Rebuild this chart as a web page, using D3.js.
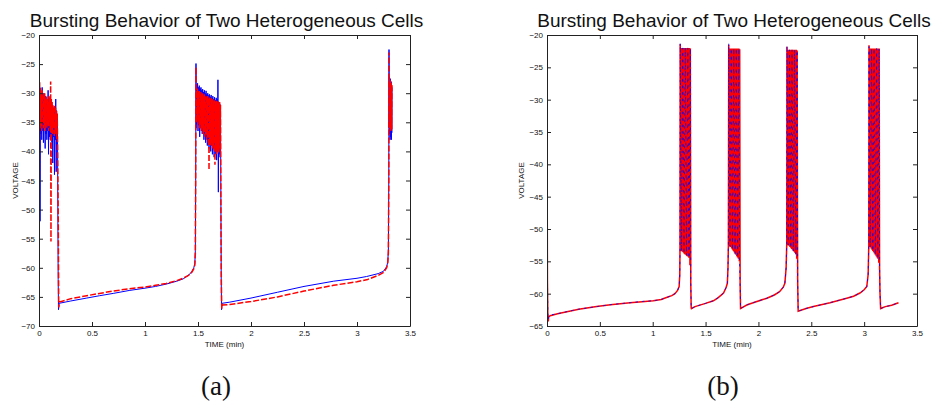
<!DOCTYPE html>
<html>
<head>
<meta charset="utf-8">
<script src="https://cdn.jsdelivr.net/npm/d3@7"></script>
<style>
  body { margin: 0; background: #fff; }
  svg text { font-family: "Liberation Sans", Arial, sans-serif; }
</style>
</head>
<body>
<svg id="chart" width="932" height="402"></svg>
<script>
// ---- data ----
var titleText = "Bursting Behavior of Two Heterogeneous Cells";
var xLabel = "TIME (min)";
var yLabel = "VOLTAGE";
var captions = ["(a)", "(b)"];
var xTicks = [0, 0.5, 1, 1.5, 2, 2.5, 3, 3.5];
var yTicksA = [-70, -65, -60, -55, -50, -45, -40, -35, -30, -25, -20];
var yTicksB = [-65, -60, -55, -50, -45, -40, -35, -30, -25, -20];

// panel (a), cell 1 (blue, solid)
var blueA = [
  [0.000,-30],[0.004,-47],[0.007,-29],[0.010,-52],[0.014,-29.5],[0.018,-37],[0.022,-30],[0.026,-38],
  [0.030,-29],[0.034,-36.5],[0.038,-30.5],[0.042,-38.5],[0.046,-30],[0.050,-36],[0.054,-31],[0.058,-39.5],
  [0.062,-30.5],[0.066,-37],[0.070,-31],[0.074,-38],[0.078,-31.5],[0.082,-36.5],[0.086,-29.5],[0.090,-40.5],
  [0.094,-31],[0.098,-37.5],[0.102,-31.5],[0.106,-38],[0.110,-32],[0.114,-37],[0.118,-31],[0.122,-38.5],
  [0.126,-32],[0.130,-42],[0.134,-32.5],[0.138,-37.5],[0.142,-33],[0.146,-44],[0.150,-32.5],[0.154,-38],
  [0.158,-31],[0.162,-43.5],[0.166,-33],[0.170,-39],[0.174,-34],[0.178,-52],[0.181,-62],[0.184,-67.2],
  [0.19,-66.1],[0.30,-65.7],[0.45,-65.2],[0.57,-64.8],[0.70,-64.4],[0.85,-63.9],[1.00,-63.5],[1.10,-63.2],
  [1.20,-62.8],[1.30,-62.3],[1.36,-61.9],[1.41,-61.3],[1.44,-60.7],[1.46,-60.0],[1.47,-59.3],[1.475,-57],
  [1.478,-45],[1.481,-24.9],[1.484,-36],[1.488,-28.5],[1.492,-35],[1.496,-28.3],[1.500,-36.5],[1.504,-29],
  [1.508,-35.5],[1.512,-28.7],[1.516,-37.5],[1.520,-29.2],[1.524,-36],[1.528,-29],[1.532,-36.5],[1.536,-29.5],
  [1.540,-37],[1.544,-29.3],[1.548,-36.5],[1.552,-29.8],[1.556,-38],[1.560,-29.5],[1.564,-37],[1.568,-30],
  [1.572,-38.5],[1.576,-29.6],[1.580,-37.5],[1.584,-30.2],[1.588,-39],[1.592,-30],[1.596,-38],[1.600,-30.4],
  [1.604,-39.5],[1.608,-30.2],[1.612,-38.5],[1.616,-30.6],[1.620,-40],[1.624,-30.3],[1.628,-39],[1.632,-30.8],
  [1.636,-40.5],[1.640,-30.5],[1.644,-39.5],[1.648,-31],[1.652,-41],[1.656,-30.7],[1.660,-40],[1.664,-31.2],
  [1.668,-40.5],[1.672,-30.8],[1.676,-41.5],[1.680,-31],[1.684,-40],[1.688,-27.7],[1.692,-47],[1.696,-31.5],
  [1.700,-40.5],[1.704,-31.8],[1.708,-41],[1.712,-32],[1.716,-48],[1.719,-62],[1.722,-67.2],[1.727,-66.1],
  [1.80,-65.9],[2.00,-65.2],[2.25,-64.2],[2.50,-63.2],[2.78,-62.3],[3.00,-61.8],[3.09,-61.5],[3.20,-61.0],
  [3.25,-60.6],[3.28,-59.8],[3.29,-59.0],[3.296,-57],[3.300,-45],[3.302,-22.5],[3.304,-36],[3.306,-27.2],
  [3.308,-37],[3.310,-28],[3.312,-38],[3.314,-27.5],[3.316,-36.5],[3.318,-28.5],[3.320,-37.5],[3.322,-28],
  [3.324,-38],[3.326,-28.8],[3.328,-36.8],[3.330,-29]
];

// panel (a), cell 2 (red, dashed)
var redA = [
  [0.000,-28.5],[0.003,-44],[0.006,-28],[0.010,-36],[0.014,-29],[0.018,-35.5],[0.022,-30],[0.026,-36.5],
  [0.030,-29.5],[0.034,-35],[0.038,-30],[0.042,-36],[0.046,-30.5],[0.050,-35.5],[0.054,-30],[0.058,-36.5],
  [0.062,-31],[0.066,-35],[0.070,-30.5],[0.074,-36],[0.078,-31],[0.082,-35.5],[0.086,-31.5],[0.090,-36.5],
  [0.094,-30.5],[0.098,-35],[0.102,-31],[0.106,-36],[0.110,-28],[0.113,-55.5],[0.116,-31],[0.120,-36],
  [0.124,-31.5],[0.128,-37],[0.132,-32],[0.136,-36],[0.140,-32.5],[0.144,-37.5],[0.148,-32],[0.152,-36.5],
  [0.156,-32.5],[0.160,-37],[0.164,-33],[0.168,-38],[0.172,-33.5],[0.176,-40],[0.182,-52],[0.186,-66.8],
  [0.192,-65.9],[0.30,-65.3],[0.45,-64.8],[0.57,-64.4],[0.70,-64.0],[0.85,-63.6],[1.00,-63.3],[1.10,-63.0],
  [1.20,-62.7],[1.30,-62.2],[1.36,-61.8],[1.41,-61.3],[1.44,-60.8],[1.46,-60.2],[1.47,-59.5],[1.475,-57.5],
  [1.478,-45],[1.481,-25.5],[1.484,-35],[1.488,-29.5],[1.492,-34.5],[1.496,-29.2],[1.500,-35.5],[1.504,-29.8],
  [1.508,-35],[1.512,-29.5],[1.516,-36],[1.520,-30],[1.524,-35.5],[1.528,-29.8],[1.532,-36.5],[1.536,-30.2],
  [1.540,-36],[1.544,-30],[1.548,-37],[1.552,-30.4],[1.556,-36.5],[1.560,-30.2],[1.564,-37.5],[1.568,-30.6],
  [1.572,-37],[1.576,-30.4],[1.580,-38],[1.584,-30.8],[1.588,-37.5],[1.592,-30.5],[1.596,-38.5],[1.600,-30.9],
  [1.604,-43.2],[1.608,-30.7],[1.612,-38],[1.616,-31],[1.620,-39],[1.624,-30.8],[1.628,-38.5],[1.632,-31.2],
  [1.636,-39.5],[1.640,-31],[1.644,-39],[1.648,-31.4],[1.652,-40],[1.656,-31.2],[1.660,-42.3],[1.664,-31.5],
  [1.668,-39.5],[1.672,-31.3],[1.676,-40.5],[1.680,-31.6],[1.684,-39.8],[1.688,-31.4],[1.692,-40.2],[1.696,-31.8],
  [1.700,-39.5],[1.704,-31.5],[1.708,-40],[1.712,-32],[1.716,-50],[1.720,-62],[1.724,-67],[1.729,-66.4],
  [1.80,-66.3],[2.00,-65.8],[2.25,-65.0],[2.50,-64.0],[2.78,-63.0],[3.00,-62.4],[3.10,-62.0],[3.20,-61.3],
  [3.25,-60.8],[3.28,-60.0],[3.29,-59.2],[3.296,-57.5],[3.300,-45],[3.302,-23],[3.304,-35.5],[3.306,-27.5],
  [3.308,-36],[3.310,-28],[3.312,-36.3],[3.314,-27.8],[3.316,-35.8],[3.318,-28.4],[3.320,-36.5],[3.322,-28.2],
  [3.324,-36],[3.326,-28.6],[3.328,-36.2],[3.330,-28.5]
];

// panel (b), cell 2 (red, solid)
var redB = [
  [0.000,-23.0],[0.002,-45],[0.004,-58],[0.008,-63.5],[0.012,-64.3],[0.016,-63.6],[0.03,-63.4],[0.10,-63.1],
  [0.155,-62.9],[0.30,-62.4],[0.47,-62.0],[0.60,-61.7],[0.785,-61.4],[0.90,-61.25],[1.006,-61.1],[1.08,-60.9],
  [1.13,-60.6],[1.18,-60.3],[1.21,-60.0],[1.235,-59.5],[1.25,-58.9],[1.256,-57],
  [1.258,-53.2],[1.260,-21.4],[1.264,-53.3],[1.268,-22.0],[1.272,-53.4],[1.276,-22.0],[1.280,-53.5],[1.284,-22.0],
  [1.288,-53.6],[1.292,-22.0],[1.296,-53.8],[1.300,-22.0],[1.304,-53.9],[1.308,-22.0],[1.312,-54.0],[1.316,-22.0],
  [1.320,-54.1],[1.324,-22.0],[1.328,-54.2],[1.332,-22.0],[1.336,-54.3],[1.340,-22.0],[1.344,-54.5],[1.348,-22.0],
  [1.352,-55.6],[1.356,-22.1],[1.360,-58.4],[1.364,-62.2],
  [1.366,-62.3],[1.40,-62.0],[1.50,-61.5],[1.574,-61.1],[1.62,-60.6],[1.67,-59.9],[1.695,-59.0],[1.706,-58.4],
  [1.712,-56],
  [1.716,-52.4],[1.719,-21.5],[1.723,-52.5],[1.727,-22.1],[1.731,-52.7],[1.735,-22.1],[1.739,-52.8],[1.743,-22.1],
  [1.747,-53.0],[1.751,-22.1],[1.755,-53.2],[1.759,-22.1],[1.763,-53.4],[1.767,-22.1],[1.771,-53.6],[1.775,-22.1],
  [1.779,-53.8],[1.783,-22.1],[1.787,-54.0],[1.791,-22.1],[1.795,-54.2],[1.799,-22.1],[1.803,-54.4],[1.807,-22.1],
  [1.811,-54.6],[1.815,-22.1],[1.819,-55.0],[1.823,-22.2],[1.827,-58.5],[1.831,-62.3],
  [1.889,-61.75],[1.95,-61.4],[2.08,-60.7],[2.15,-60.2],[2.20,-59.7],[2.235,-59.0],[2.25,-58.4],[2.262,-56],
  [2.268,-52.2],[2.270,-21.8],[2.274,-52.3],[2.278,-22.3],[2.282,-52.5],[2.286,-22.3],[2.290,-52.6],[2.294,-22.3],
  [2.298,-52.8],[2.302,-22.3],[2.306,-52.9],[2.310,-22.3],[2.314,-53.1],[2.318,-22.3],[2.322,-53.2],[2.326,-22.3],
  [2.330,-53.4],[2.334,-22.3],[2.338,-53.5],[2.342,-22.3],[2.346,-53.7],[2.350,-22.3],[2.354,-53.9],[2.358,-22.3],
  [2.362,-54.6],[2.366,-22.4],[2.371,-58],[2.376,-62.7],
  [2.45,-62.3],[2.52,-62.0],[2.677,-61.4],[2.835,-60.7],[2.90,-60.4],[2.96,-59.9],[3.00,-59.4],[3.025,-58.9],
  [3.038,-57],
  [3.044,-52.5],[3.046,-21.6],[3.050,-52.6],[3.054,-22.1],[3.058,-52.8],[3.062,-22.1],[3.066,-53.0],[3.070,-22.1],
  [3.074,-53.2],[3.078,-22.1],[3.082,-53.4],[3.086,-22.1],[3.090,-53.6],[3.094,-22.1],[3.098,-53.8],[3.102,-22.1],
  [3.106,-54.0],[3.110,-22.1],[3.114,-54.2],[3.118,-22.1],[3.122,-54.4],[3.126,-22.1],[3.130,-54.6],[3.134,-22.1],
  [3.138,-55.2],[3.142,-22.1],[3.146,-56],[3.150,-59.9],[3.156,-62.3],
  [3.20,-62.0],[3.26,-61.8],[3.325,-61.4]
];

// panel (b), cell 1 (blue, dashed)
var blueB = [
  [0.000,-46],[0.004,-58],[0.008,-62.8],[0.012,-64.0],[0.016,-63.5],[0.03,-63.3],[0.10,-63.1],
  [0.155,-62.9],[0.30,-62.4],[0.47,-62.0],[0.60,-61.7],[0.785,-61.4],[0.90,-61.2],[1.006,-61.1],[1.08,-60.9],
  [1.13,-60.6],[1.18,-60.3],[1.21,-60.0],[1.235,-59.5],[1.25,-58.9],[1.256,-57],
  [1.258,-53.2],[1.260,-21.3],[1.272,-53.4],[1.284,-22.0],[1.296,-53.8],[1.308,-22.0],[1.320,-54.1],[1.332,-22.0],
  [1.344,-54.5],[1.356,-22.1],[1.360,-58.4],[1.364,-62.2],
  [1.366,-62.3],[1.40,-62.0],[1.50,-61.5],[1.574,-61.1],[1.62,-60.6],[1.67,-59.9],[1.695,-59.0],[1.706,-58.4],
  [1.712,-56],
  [1.716,-52.4],[1.719,-21.3],[1.731,-52.7],[1.743,-22.1],[1.755,-53.2],[1.767,-22.1],[1.779,-53.8],[1.791,-22.1],
  [1.803,-54.4],[1.815,-22.1],[1.821,-55.0],[1.827,-58.5],[1.831,-62.3],
  [1.889,-61.75],[1.95,-61.4],[2.08,-60.7],[2.15,-60.2],[2.20,-59.7],[2.235,-59.0],[2.25,-58.4],[2.262,-56],
  [2.268,-52.2],[2.270,-21.7],[2.282,-52.5],[2.294,-22.3],[2.306,-52.9],[2.318,-22.3],[2.330,-53.4],[2.342,-22.3],
  [2.354,-53.9],[2.366,-22.4],[2.371,-58],[2.376,-62.7],
  [2.45,-62.3],[2.52,-62.0],[2.677,-61.4],[2.835,-60.7],[2.90,-60.4],[2.96,-59.9],[3.00,-59.4],[3.025,-58.9],
  [3.038,-57],
  [3.044,-52.5],[3.046,-21.8],[3.058,-52.8],[3.070,-22.1],[3.082,-53.4],[3.094,-22.1],[3.106,-54.0],[3.118,-22.1],
  [3.130,-54.6],[3.142,-22.1],[3.146,-56],[3.150,-59.9],[3.156,-62.3],
  [3.20,-62.0],[3.26,-61.8],[3.325,-61.4]
];

// ---- drawing ----
var svg = d3.select('#chart');

function drawPanel(cfg){
  var x = d3.scaleLinear().domain([0, 3.5]).range([cfg.left, cfg.right]),
      y = d3.scaleLinear().domain(cfg.yDomain).range([cfg.bottom, cfg.top]);
  var g = svg.append('g').attr('class', 'panel');
  var fmt = function(d){ return d < 0 ? '\u2212' + Math.abs(d) : String(d); };

  g.append('clipPath').attr('id', cfg.id + '-clip')
    .append('rect').attr('x', cfg.left).attr('y', cfg.top - 2)
    .attr('width', cfg.right - cfg.left).attr('height', cfg.bottom - cfg.top + 2);

  var line = d3.line().x(function(d){ return x(d[0]); }).y(function(d){ return y(d[1]); });
  var plot = g.append('g').attr('clip-path', 'url(#' + cfg.id + '-clip)');
  cfg.series.forEach(function(s){
    plot.append('path').datum(s.data)
      .attr('d', line)
      .attr('fill', 'none')
      .attr('stroke', s.color)
      .attr('stroke-width', s.width)
      .attr('stroke-dasharray', s.dash || null)
      .attr('stroke-linejoin', 'miter');
  });

  // axes, MATLAB style box with inward ticks on all sides
  var ax = g.append('g').attr('class', 'axes');
  ax.append('g').attr('transform', 'translate(0,' + cfg.bottom + ')')
    .call(d3.axisBottom(x).tickValues(xTicks).tickFormat(fmt).tickSizeInner(-4).tickSizeOuter(0).tickPadding(4));
  ax.append('g').attr('transform', 'translate(0,' + cfg.top + ')')
    .call(d3.axisTop(x).tickValues(xTicks).tickFormat('').tickSizeInner(-4).tickSizeOuter(0));
  ax.append('g').attr('transform', 'translate(' + cfg.left + ',0)')
    .call(d3.axisLeft(y).tickValues(cfg.yTicks).tickFormat(fmt).tickSizeInner(-4).tickSizeOuter(0).tickPadding(4));
  ax.append('g').attr('transform', 'translate(' + cfg.right + ',0)')
    .call(d3.axisRight(y).tickValues(cfg.yTicks).tickFormat('').tickSizeInner(-4).tickSizeOuter(0));
  ax.selectAll('.domain').attr('stroke', '#222');
  ax.selectAll('.tick line').attr('stroke', '#222');
  ax.selectAll('.tick text').attr('font-size', 8).attr('fill', '#111')
    .style('font-family', '"Liberation Sans", Arial, sans-serif');

  g.append('text').attr('x', (cfg.left + cfg.right) / 2 + 2).attr('y', 27)
    .attr('text-anchor', 'middle').attr('font-size', 19).attr('fill', '#111').text(titleText);
  g.append('text').attr('x', (cfg.left + cfg.right) / 2).attr('y', 347)
    .attr('text-anchor', 'middle').attr('font-size', 8).attr('fill', '#111').text(xLabel);
  g.append('text').attr('transform', 'translate(' + cfg.ylabX + ',' + ((cfg.top + cfg.bottom) / 2) + ')rotate(-90)')
    .attr('text-anchor', 'middle').attr('font-size', 8).attr('fill', '#111').text(yLabel);
  g.append('text').attr('x', cfg.capX).attr('y', 395)
    .attr('text-anchor', 'middle').attr('font-size', 27).attr('fill', '#111')
    .style('font-family', '"Liberation Serif", "DejaVu Serif", serif').text(cfg.caption);
}

drawPanel({
  id: 'pa', left: 39, right: 410, top: 35, bottom: 326,
  yDomain: [-70, -20], yTicks: yTicksA, ylabX: 18, capX: 216, caption: captions[0],
  series: [
    {data: blueA, color: '#0000ff', width: 1},
    {data: redA, color: '#ff0000', width: 1.5, dash: '6,2'}
  ]
});

drawPanel({
  id: 'pb', left: 547, right: 917, top: 35, bottom: 326,
  yDomain: [-65, -20], yTicks: yTicksB, ylabX: 524, capX: 723, caption: captions[1],
  series: [
    {data: redB, color: '#ff0000', width: 1.5},
    {data: blueB, color: '#0000ff', width: 0.8, dash: '2.5,4'}
  ]
});
</script>
</body>
</html>
